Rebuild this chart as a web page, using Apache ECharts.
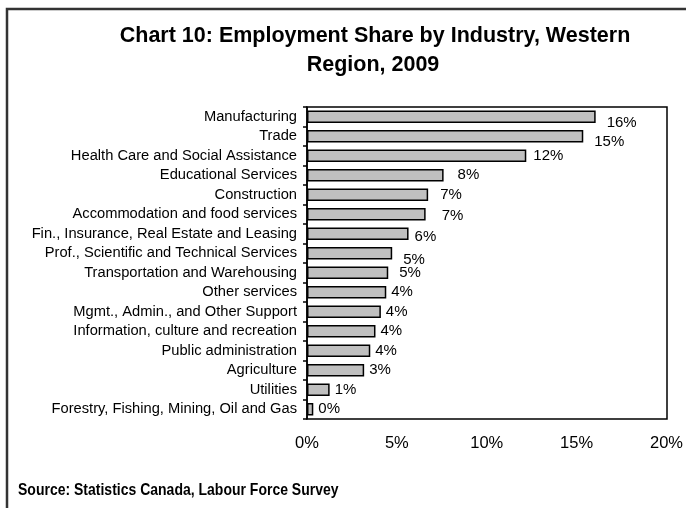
<!DOCTYPE html>
<html>
<head>
<meta charset="utf-8">
<title>Employment Share by Industry, Western Region, 2009</title>
<script src="https://cdn.jsdelivr.net/npm/echarts@6/dist/echarts.min.js"></script>
<style>
  html, body { margin: 0; padding: 0; background: #fff; }
  #chart { width: 686px; height: 508px; }
</style>
</head>
<body>
<div id="chart"></div>
<script>
// Industries, listed top to bottom
const industries = [
  'Manufacturing',
  'Trade',
  'Health Care and Social Assistance',
  'Educational Services',
  'Construction',
  'Accommodation and food services',
  'Fin., Insurance, Real Estate and Leasing',
  'Prof., Scientific and Technical Services',
  'Transportation and Warehousing',
  'Other services',
  'Mgmt., Admin., and Other Support',
  'Information, culture and recreation',
  'Public administration',
  'Agriculture',
  'Utilities',
  'Forestry, Fishing, Mining, Oil and Gas'
];

// Share of total employment (%)
const sharePct = [16.06, 15.37, 12.2, 7.6, 6.74, 6.6, 5.65, 4.74, 4.52, 4.41, 4.11, 3.81, 3.52, 3.18, 1.26, 0.35];

// Value axis ticks (%)
const axisTicks = [0, 5, 10, 15, 20];

const titleLines = ['Chart 10: Employment Share by Industry, Western', 'Region, 2009'];
const sourceNote = 'Source: Statistics Canada, Labour Force Survey';

const FONT = '"Liberation Sans", Arial, Helvetica, sans-serif';

// Hand-placed value labels: [dx, dy] shift from the default spot
const labelShift = {
  'Manufacturing': [6, 6],
  'Trade': [6, 6],
  'Health Care and Social Assistance': [2, 0],
  'Educational Services': [9, 0],
  'Construction': [7, 0],
  'Accommodation and food services': [11, 2],
  'Fin., Insurance, Real Estate and Leasing': [1, 3],
  'Prof., Scientific and Technical Services': [6, 7],
  'Transportation and Warehousing': [6, 0]
};

const barData = sharePct.map((v, i) => {
  const s = labelShift[industries[i]];
  const item = { value: v };
  if (s) item.label = { offset: s };
  return item;
});

const chart = echarts.init(document.getElementById('chart'), null, { renderer: 'canvas' });

chart.setOption({
  animation: false,
  backgroundColor: '#ffffff',
  textStyle: { fontFamily: FONT },
  grid: { left: 307, top: 107, width: 360, height: 312, containLabel: false },
  xAxis: {
    type: 'value',
    min: axisTicks[0],
    max: axisTicks[axisTicks.length - 1],
    interval: axisTicks[1] - axisTicks[0],
    axisLine: { show: false },
    axisTick: { show: false },
    splitLine: { show: false },
    axisLabel: {
      color: '#000',
      fontFamily: FONT,
      fontSize: 16.5,
      margin: 16,
      formatter: v => v + '%'
    }
  },
  yAxis: {
    type: 'category',
    data: industries,
    inverse: true,
    axisLine: { show: true, lineStyle: { color: '#000', width: 1.5 } },
    axisTick: { show: true, length: 4, interval: 0, lineStyle: { color: '#000', width: 1.5 } },
    splitLine: { show: false },
    axisLabel: {
      interval: 0,
      hideOverlap: false,
      color: '#000',
      fontFamily: FONT,
      fontSize: 14.7,
      margin: 10
    }
  },
  series: [{
    type: 'bar',
    data: barData,
    barCategoryGap: '36%',
    itemStyle: { color: '#c0c0c0', borderColor: '#000', borderWidth: 1.5 },
    label: {
      show: true,
      position: 'right',
      distance: 5,
      color: '#000',
      fontFamily: FONT,
      fontSize: 15,
      formatter: p => Math.round(p.value) + '%'
    }
  }],
  graphic: [
    // plot frame
    {
      type: 'rect',
      shape: { x: 307, y: 107, width: 360, height: 312 },
      style: { fill: 'none', stroke: '#000', lineWidth: 1.5 },
      z: 10, silent: true
    },
    // outer chart border
    {
      type: 'rect',
      shape: { x: 7, y: 9, width: 720, height: 540 },
      style: { fill: 'none', stroke: '#333', lineWidth: 2.5 },
      silent: true
    },
    {
      type: 'text',
      x: 375, y: 47,
      style: {
        text: titleLines[0], fill: '#000', font: 'bold 21.5px ' + FONT,
        textAlign: 'center', textVerticalAlign: 'bottom'
      }
    },
    {
      type: 'text',
      x: 373, y: 76,
      style: {
        text: titleLines[1], fill: '#000', font: 'bold 21.5px ' + FONT,
        textAlign: 'center', textVerticalAlign: 'bottom'
      }
    },
    {
      type: 'text',
      x: 18, y: 499,
      scaleY: 1.15,
      originX: 0,
      originY: 0,
      style: {
        text: sourceNote, fill: '#000', font: 'bold 14px ' + FONT,
        textAlign: 'left', textVerticalAlign: 'bottom'
      }
    }
  ]
});
</script>
</body>
</html>
